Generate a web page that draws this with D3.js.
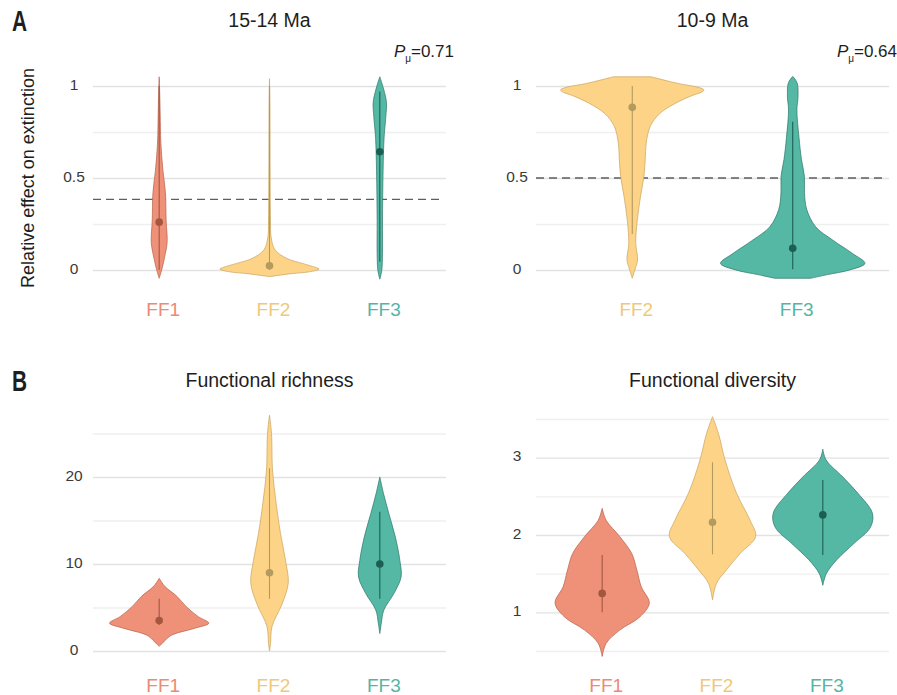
<!DOCTYPE html>
<html>
<head>
<meta charset="utf-8">
<script src="https://cdn.jsdelivr.net/npm/d3@7"></script>
<style>
  body { margin: 0; background: #fff; }
  text { font-family: "Liberation Sans", Arial, Helvetica, sans-serif; }
</style>
</head>
<body>
<script>
// violin profiles: [value, density] from top tip to bottom tip
var ma15_ff1 = [[1.05,0],[0.95,0.6],[0.85,1.0],[0.69,1.7],[0.54,3.8],[0.42,6.3],[0.27,7.0],[0.15,8.0],[0.07,5.5],[0.0,2.5],[-0.045,0]];
var ma15_ff2 = [[1.04,0],[0.9,0.4],[0.54,0.6],[0.27,1.0],[0.18,1.6],[0.11,5.5],[0.063,17.5],[0.036,33],[0.015,46],[0.005,50],[-0.01,40],[-0.02,22],[-0.036,0]];
var ma15_ff3 = [[1.05,0],[0.98,4],[0.91,6.7],[0.83,6],[0.72,4.3],[0.54,3.3],[0.27,2.7],[0.09,2.7],[0.0,2],[-0.05,0]];

var ma10_ff2 = [[1.05,19],[1.015,45],[0.99,68],[0.978,72],[0.965,69],[0.95,61],[0.905,43],[0.85,27.5],[0.78,18],[0.69,14],[0.6,13],[0.51,11.7],[0.4,8.3],[0.27,5],[0.145,3.5],[0.054,5.3],[0.0,2.5],[-0.045,0]];
var ma10_ff3 = [[1.05,0.5],[1.015,4.5],[0.94,5.3],[0.87,4.2],[0.72,6.3],[0.6,8.8],[0.51,11.7],[0.42,11.8],[0.33,14],[0.235,23],[0.163,40],[0.09,60],[0.036,72.5],[0.0,57],[-0.025,35],[-0.045,18]];

var rich_ff1 = [[8.36,0],[7.9,2.5],[7.4,5.8],[6.25,18],[5.1,27],[3.95,39],[3.2,49.5],[2.6,35],[1.8,12],[1.1,5],[0.54,0]];
var rich_ff2 = [[27.1,0],[25,2],[20.8,3],[17.3,6.3],[13.5,11],[10.4,16],[7.8,18.7],[5.4,12.5],[2.8,2.5],[0.85,1],[0,0]];
var rich_ff3 = [[20,0],[18.1,3.7],[15.8,9],[13.1,15.5],[10.4,20],[8.5,21.2],[6.6,14],[4.7,4],[3.2,1.5],[2,0]];

var div_ff1 = [[2.345,0],[2.19,4],[1.98,17.5],[1.76,29.5],[1.55,34.5],[1.33,39],[1.12,47],[0.94,37.5],[0.77,17.5],[0.6,4],[0.43,0]];
var div_ff2 = [[3.53,0],[3.31,6],[2.97,12.5],[2.54,24],[2.19,37.5],[1.98,43],[1.76,27.5],[1.55,14],[1.375,4],[1.16,0]];
var div_ff3 = [[3.11,0],[2.97,3.3],[2.75,20],[2.54,35],[2.28,49.5],[2.1,47.5],[1.89,31],[1.68,14],[1.5,3.5],[1.35,0]];

// median and interval [median, low, high]
var ma15_median = [[0.26,0.0,1.0],[0.023,0.0,1.0],[0.643,0.045,0.97]];
var ma10_median = [[0.884,0.196,1.0],[0.118,0.004,0.806]];
var rich_median = [[3.5,3,6],[9,6,21],[10,6,16]];
var div_median = [[1.245,1.0,1.74],[2.165,1.75,2.94],[2.26,1.74,2.71]];

var cats3 = ["FF1", "FF2", "FF3"];
var cats2 = ["FF2", "FF3"];

var ticksA = [0, 0.5, 1];
var gridA = [0, 0.25, 0.5, 0.75, 1];
var ticksRich = [0, 10, 20];
var gridRich = [0, 5, 10, 15, 20, 25];
var ticksDiv = [1, 2, 3];
var gridDiv = [0.5, 1, 1.5, 2, 2.5, 3, 3.5];

var pValues = ["0.71", "0.64"];
var nullLines = [0.384, 0.5];

var fillCol = { FF1: "#ef9179", FF2: "#fdd388", FF3: "#55b8a5" };
var lineCol = { FF1: "#b5604a", FF2: "#c9a45a", FF3: "#2a7566" };
var dotCol = { FF1: "#a3573f", FF2: "#b39a5e", FF3: "#1c5f52" };
var labCol = { FF1: "#ec8a74", FF2: "#f0c878", FF3: "#55b5a5" };

var svg = d3.select("body").append("svg")
  .attr("width", 897)
  .attr("height", 695);

var panels = [
  { title: "15-14 Ma", x0: 93, x1: 446, y0: 270, y1: 86, domain: [0, 1], cats: cats3,
    violins: [ma15_ff1, ma15_ff2, ma15_ff3], med: ma15_median, ticks: ticksA, grid: gridA,
    titleY: 27, labY: 316, p: pValues[0], nullLine: nullLines[0] },
  { title: "10-9 Ma", x0: 536, x1: 889, y0: 270, y1: 86, domain: [0, 1], cats: cats2,
    violins: [ma10_ff2, ma10_ff3], med: ma10_median, ticks: ticksA, grid: gridA,
    titleY: 27, labY: 316, p: pValues[1], nullLine: nullLines[1] },
  { title: "Functional richness", x0: 93, x1: 446, y0: 651, y1: 433.5, domain: [0, 25], cats: cats3,
    violins: [rich_ff1, rich_ff2, rich_ff3], med: rich_median, ticks: ticksRich, grid: gridRich,
    titleY: 387, labY: 692 },
  { title: "Functional diversity", x0: 536, x1: 889, y0: 651, y1: 419, domain: [0.5, 3.5], cats: cats3,
    violins: [div_ff1, div_ff2, div_ff3], med: div_median, ticks: ticksDiv, grid: gridDiv,
    titleY: 387, labY: 692 }
];

panels.forEach(function (p) {
  var g = svg.append("g");

  var y = d3.scaleLinear().domain(p.domain).range([p.y0, p.y1]);
  var x = d3.scalePoint().domain(p.cats).range([p.x0, p.x1]).padding(0.6);

  var maxDens = d3.max(p.violins, v => d3.max(v, d => d[1]));
  var w = d3.scaleLinear().domain([0, maxDens]).range([0, x.step() * 0.45]);

  // gridlines
  var gridAxis = d3.axisLeft(y).tickValues(p.grid).tickSize(-(p.x1 - p.x0)).tickFormat("");
  var grid = g.append("g")
    .attr("transform", `translate(${p.x0},0)`)
    .call(gridAxis);
  grid.select(".domain").remove();
  grid.selectAll(".tick line")
    .attr("stroke", d => p.ticks.indexOf(d) >= 0 ? "#e2e2e2" : "#efefef")
    .attr("stroke-width", 1.4);

  // tick labels
  var labAxis = d3.axisLeft(y).tickValues(p.ticks).tickSize(0).tickPadding(0).tickFormat(d3.format("~g"));
  var labs = g.append("g")
    .attr("transform", `translate(${p.x0 - 19},0)`)
    .call(labAxis);
  labs.select(".domain").remove();
  labs.selectAll("text")
    .attr("text-anchor", "middle")
    .attr("dy", "0.2em")
    .attr("font-size", 15.5)
    .attr("font-family", null)
    .attr("fill", "#3a3a3a");

  if (p.nullLine !== undefined) {
    g.append("line")
      .attr("x1", p.x0).attr("x2", p.x1 - 4)
      .attr("y1", y(p.nullLine)).attr("y2", y(p.nullLine))
      .attr("stroke", "#5e5e5e")
      .attr("stroke-width", 1.3)
      .attr("stroke-dasharray", "8,5");
  }

  p.cats.forEach(function (c, i) {
    var cx = x(c);
    var area = d3.area()
      .y(d => y(d[0]))
      .x0(d => cx - w(d[1]))
      .x1(d => cx + w(d[1]))
      .curve(d3.curveCatmullRom.alpha(0.5));

    g.append("path")
      .datum(p.violins[i])
      .attr("d", area)
      .attr("fill", fillCol[c])
      .attr("stroke", lineCol[c])
      .attr("stroke-width", 0.7);

    var m = p.med[i];
    g.append("line")
      .attr("x1", cx).attr("x2", cx)
      .attr("y1", y(m[1])).attr("y2", y(m[2]))
      .attr("stroke", dotCol[c])
      .attr("stroke-width", 1.1);
    g.append("circle")
      .attr("cx", cx).attr("cy", y(m[0]))
      .attr("r", 3.8)
      .attr("fill", dotCol[c]);

    g.append("text")
      .attr("x", cx + 4)
      .attr("y", p.labY)
      .attr("text-anchor", "middle")
      .attr("font-size", 19)
      .attr("fill", labCol[c])
      .text(c);
  });

  g.append("text")
    .attr("x", (p.x0 + p.x1) / 2)
    .attr("y", p.titleY)
    .attr("text-anchor", "middle")
    .attr("font-size", 19.5)
    .attr("fill", "#1e1e1e")
    .text(p.title);

  if (p.p) {
    var pt = g.append("text")
      .attr("x", p.x1 + 8)
      .attr("y", 57)
      .attr("text-anchor", "end")
      .attr("font-size", 17)
      .attr("fill", "#1e1e1e");
    pt.append("tspan").attr("font-style", "italic").text("P");
    pt.append("tspan").attr("font-size", 10).attr("dy", 5).text("\u03bc");
    pt.append("tspan").attr("dy", -5).text("=" + p.p);
  }
});

// panel letters
[["A", 31], ["B", 391]].forEach(function (l) {
  svg.append("text")
    .attr("transform", `translate(12,${l[1]}) scale(0.72,1)`)
    .attr("font-size", 29)
    .attr("font-weight", "bold")
    .attr("fill", "#1e1e1e")
    .text(l[0]);
});

// y axis title
svg.append("text")
  .attr("transform", "translate(34,178) rotate(-90)")
  .attr("text-anchor", "middle")
  .attr("font-size", 18)
  .attr("fill", "#1e1e1e")
  .text("Relative effect on extinction");
</script>
</body>
</html>
